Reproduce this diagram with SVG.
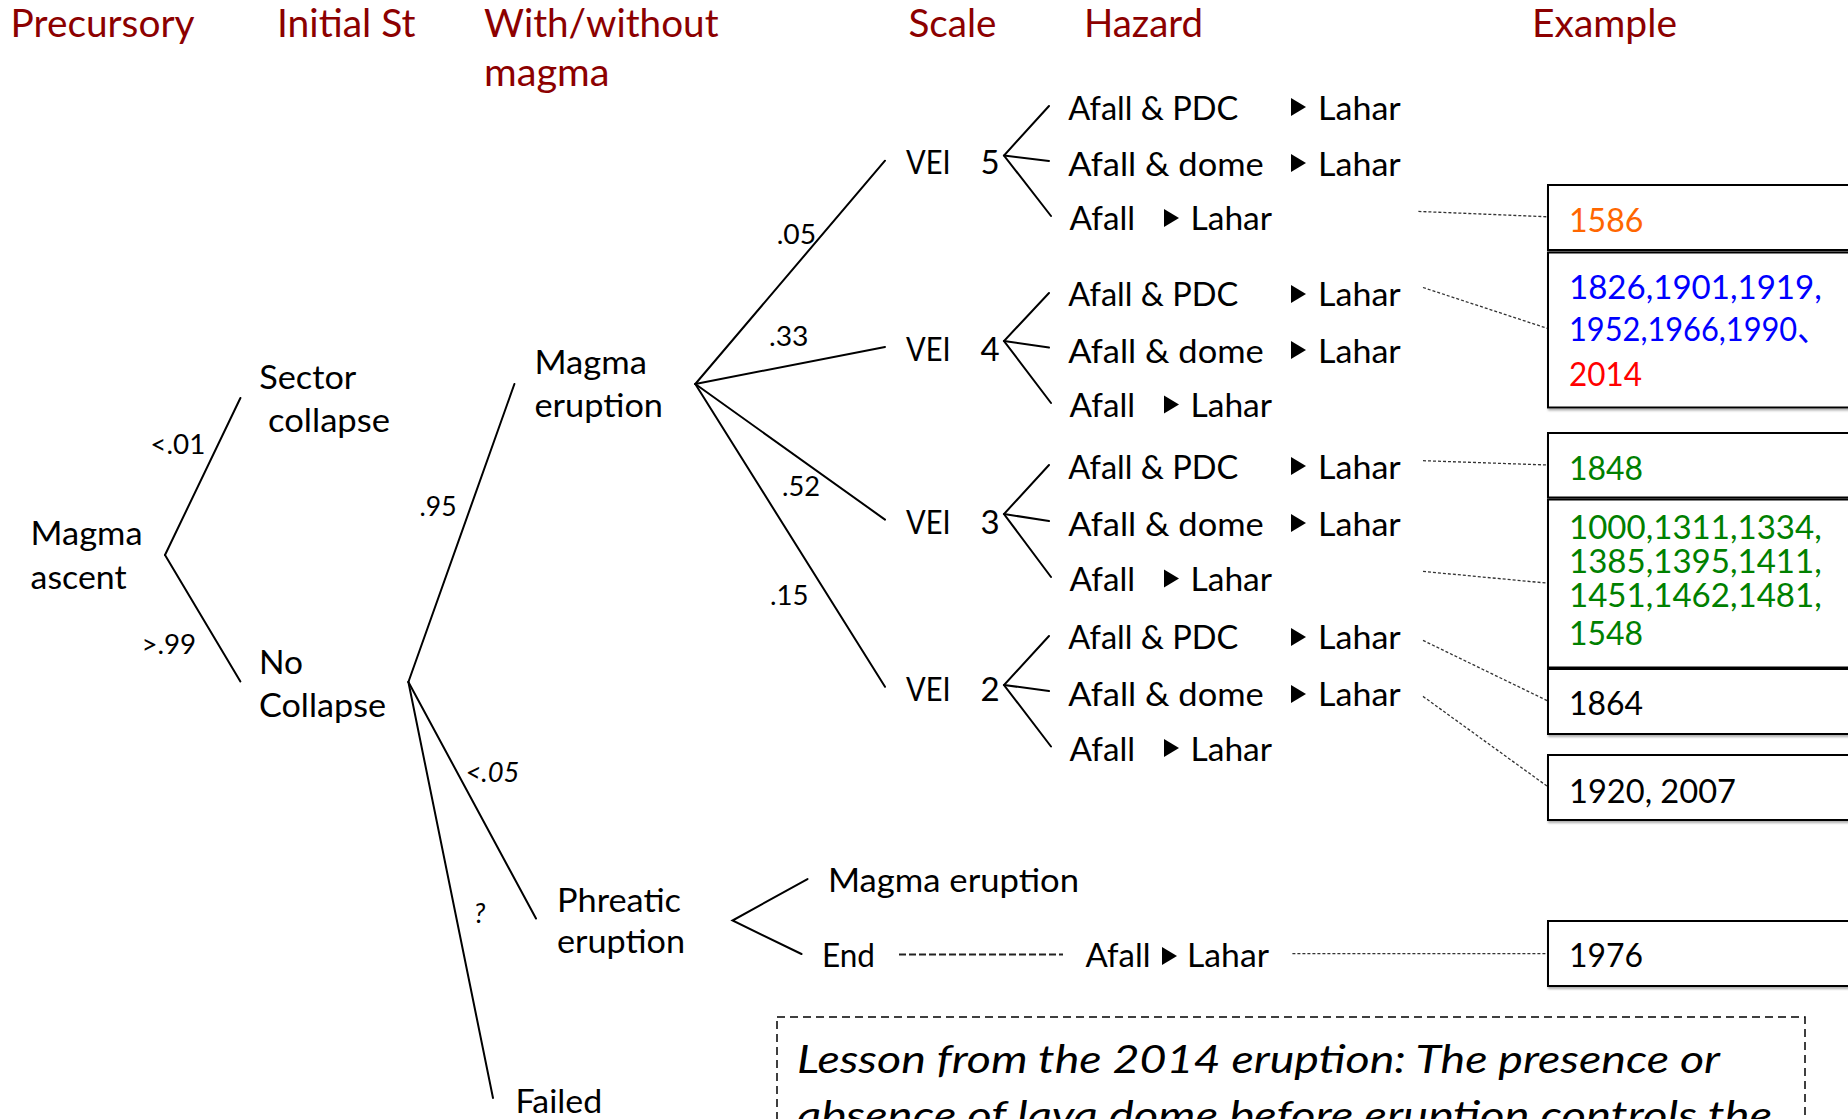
<svg xmlns="http://www.w3.org/2000/svg" xmlns:xlink="http://www.w3.org/1999/xlink" width="1848" height="1119" viewBox="0 0 1848 1119">
<style>
text { font-family: Lato, "Liberation Sans", "Noto Sans CJK JP", sans-serif; }
.h { font-size: 38px; fill: #8C0000; }
.t { font-size: 33px; fill: #000; }
.s { font-size: 32px; }
.p { font-size: 27px; fill: #000; }
.it { font-style: italic; }
.L { font-size: 38.5px; font-style: italic; fill: #000; }
.ln { stroke: #000; stroke-width: 2; fill: none; stroke-linecap: round; }
.d { stroke: #333; stroke-width: 1.3; stroke-dasharray: 3 2; fill: none; }
.box { fill: #fff; stroke: #000; stroke-width: 2; filter: url(#sh); }
.or { fill: #FF6600; } .bl { fill: #0000FF; } .rd { fill: #FF0000; } .gr { fill: #008000; }
</style>
<defs>
<filter id="sh" x="-5%" y="-10%" width="110%" height="130%">
<feDropShadow dx="1" dy="2" stdDeviation="1" flood-color="#777" flood-opacity="0.6"/>
</filter>
<polygon id="tri" points="0,0 15,9 0,18" fill="#000"/>
</defs>
<rect width="1848" height="1119" fill="#fff"/>

<g id="headers">
<text class="h" x="10.6" y="36.5" textLength="184" lengthAdjust="spacingAndGlyphs">Precursory</text>
<text class="h" x="277" y="36.5" textLength="138.5" lengthAdjust="spacingAndGlyphs">Initial St</text>
<text class="h" x="484" y="36.5" textLength="234.5" lengthAdjust="spacingAndGlyphs">With/without</text>
<text class="h" x="484" y="86" textLength="125.5" lengthAdjust="spacingAndGlyphs">magma</text>
<text class="h" x="908.5" y="36.5" textLength="88" lengthAdjust="spacingAndGlyphs">Scale</text>
<text class="h" x="1084" y="36.5" textLength="119" lengthAdjust="spacingAndGlyphs">Hazard</text>
<text class="h" x="1532" y="36.5" textLength="145" lengthAdjust="spacingAndGlyphs">Example</text>
</g>

<g id="connectors">
<line class="ln" x1="165" y1="555" x2="240.4" y2="398"/>
<line class="ln" x1="165" y1="555" x2="240.4" y2="681.4"/>
<line class="ln" x1="408.4" y1="682" x2="514.4" y2="384"/>
<line class="ln" x1="408.4" y1="682" x2="536" y2="918.5"/>
<line class="ln" x1="408.4" y1="682" x2="493" y2="1098"/>
<line class="ln" x1="695.3" y1="384" x2="885" y2="160.7"/>
<line class="ln" x1="695.3" y1="384" x2="885" y2="347"/>
<line class="ln" x1="695.3" y1="384" x2="885" y2="519.6"/>
<line class="ln" x1="695.3" y1="384" x2="885" y2="686.8"/>
<polyline class="ln" points="1049,106 1004,155.5 1051,216"/>
<line class="ln" x1="1004" y1="155.5" x2="1049" y2="161"/>
<polyline class="ln" points="1049,293 1004,341 1051,403"/>
<line class="ln" x1="1004" y1="341" x2="1049" y2="347.5"/>
<polyline class="ln" points="1049,465 1004,514 1051,577"/>
<line class="ln" x1="1004" y1="514" x2="1049" y2="521"/>
<polyline class="ln" points="1049,636 1004,685 1051,746.5"/>
<line class="ln" x1="1004" y1="685" x2="1049" y2="691"/>
<polyline class="ln" points="807.5,879 732.5,920.5 801.5,954"/>
<line class="d" x1="1418.4" y1="211.4" x2="1548" y2="216.8"/>
<line class="d" x1="1423" y1="287.5" x2="1548" y2="328.6"/>
<line class="d" x1="1423" y1="460.7" x2="1548" y2="465"/>
<line class="d" x1="1423" y1="571.4" x2="1548" y2="583.2"/>
<line class="d" x1="1423" y1="640.4" x2="1548" y2="701"/>
<line class="d" x1="1423" y1="696.4" x2="1548" y2="786.8"/>
<line class="d" x1="1292.4" y1="953.6" x2="1548" y2="953.6"/>
<line x1="899" y1="954.6" x2="1063" y2="954.6" stroke="#222" stroke-width="2" stroke-dasharray="7 3"/>
</g>

<g id="prob-labels">
<text class="p" x="150.3" y="454" textLength="55" lengthAdjust="spacingAndGlyphs">&lt;.01</text>
<text class="p" x="141.4" y="653.6" textLength="54.8" lengthAdjust="spacingAndGlyphs">&gt;.99</text>
<text class="p" x="419.6" y="516" textLength="37" lengthAdjust="spacingAndGlyphs">.95</text>
<text class="p" x="776.7" y="243.5" textLength="39.5" lengthAdjust="spacingAndGlyphs">.05</text>
<text class="p" x="769" y="346" textLength="39.5" lengthAdjust="spacingAndGlyphs">.33</text>
<text class="p" x="782" y="496" textLength="38" lengthAdjust="spacingAndGlyphs">.52</text>
<text class="p" x="770" y="605" textLength="38.5" lengthAdjust="spacingAndGlyphs">.15</text>
<text class="p it" x="465.5" y="782" textLength="54" lengthAdjust="spacingAndGlyphs">&lt;.05</text>
<text class="p it" x="474" y="923">?</text>
</g>

<g id="node-magma-ascent">
<text class="t" x="30.6" y="544.6" textLength="112" lengthAdjust="spacingAndGlyphs">Magma</text>
<text class="t" x="30.6" y="588.6" textLength="96" lengthAdjust="spacingAndGlyphs">ascent</text>
</g>
<g id="node-sector-collapse">
<text class="t" x="259.3" y="389" textLength="97" lengthAdjust="spacingAndGlyphs">Sector</text>
<text class="t" x="268" y="432" textLength="122" lengthAdjust="spacingAndGlyphs">collapse</text>
</g>
<g id="node-no-collapse">
<text class="t" x="259" y="674" textLength="44" lengthAdjust="spacingAndGlyphs">No</text>
<text class="t" x="259" y="717" textLength="127" lengthAdjust="spacingAndGlyphs">Collapse</text>
</g>
<g id="node-magma-eruption">
<text class="t" x="534.5" y="374" textLength="112.5" lengthAdjust="spacingAndGlyphs">Magma</text>
<text class="t" x="534.5" y="417" textLength="128.5" lengthAdjust="spacingAndGlyphs">eruption</text>
</g>
<g id="node-phreatic">
<text class="t" x="557" y="912" textLength="124" lengthAdjust="spacingAndGlyphs">Phreatic</text>
<text class="t" x="557" y="953" textLength="128" lengthAdjust="spacingAndGlyphs">eruption</text>
</g>
<g id="node-failed">
<text class="t" x="515.6" y="1113" textLength="86.6" lengthAdjust="spacingAndGlyphs">Failed</text>
</g>
<g id="node-phreatic-magma">
<text class="t" x="828" y="892" textLength="251" lengthAdjust="spacingAndGlyphs">Magma eruption</text>
</g>
<g id="node-end">
<text class="t" x="822" y="967" textLength="53" lengthAdjust="spacingAndGlyphs">End</text>
<text class="t" x="1085.5" y="967" textLength="65" lengthAdjust="spacingAndGlyphs">Afall</text>
<use href="#tri" x="1162" y="947"/>
<text class="t" x="1187" y="967" textLength="82" lengthAdjust="spacingAndGlyphs">Lahar</text>
</g>

<g id="node-vei5">
<text class="t" x="906" y="174" textLength="44.6" lengthAdjust="spacingAndGlyphs">VEI</text>
<text class="t" x="980.5" y="174">5</text>
<text class="t" x="1068.3" y="119.6" textLength="170" lengthAdjust="spacingAndGlyphs">Afall &amp; PDC</text>
<use href="#tri" x="1291" y="98"/>
<text class="t" x="1318" y="119.6" textLength="82.7" lengthAdjust="spacingAndGlyphs">Lahar</text>
<text class="t" x="1068.3" y="175.7" textLength="195.4" lengthAdjust="spacingAndGlyphs">Afall &amp; dome</text>
<use href="#tri" x="1291" y="154"/>
<text class="t" x="1318" y="175.7" textLength="82.7" lengthAdjust="spacingAndGlyphs">Lahar</text>
<text class="t" x="1069.6" y="230.4" textLength="65.5" lengthAdjust="spacingAndGlyphs">Afall</text>
<use href="#tri" x="1164" y="209"/>
<text class="t" x="1190.5" y="230.4" textLength="81.5" lengthAdjust="spacingAndGlyphs">Lahar</text>
</g>
<g id="node-vei4">
<text class="t" x="906" y="361.4" textLength="44.6" lengthAdjust="spacingAndGlyphs">VEI</text>
<text class="t" x="980.5" y="361.4">4</text>
<text class="t" x="1068.3" y="306.4" textLength="170" lengthAdjust="spacingAndGlyphs">Afall &amp; PDC</text>
<use href="#tri" x="1291" y="285"/>
<text class="t" x="1318" y="306.4" textLength="82.7" lengthAdjust="spacingAndGlyphs">Lahar</text>
<text class="t" x="1068.3" y="362.5" textLength="195.4" lengthAdjust="spacingAndGlyphs">Afall &amp; dome</text>
<use href="#tri" x="1291" y="341"/>
<text class="t" x="1318" y="362.5" textLength="82.7" lengthAdjust="spacingAndGlyphs">Lahar</text>
<text class="t" x="1069.6" y="417" textLength="65.5" lengthAdjust="spacingAndGlyphs">Afall</text>
<use href="#tri" x="1164" y="395.5"/>
<text class="t" x="1190.5" y="417" textLength="81.5" lengthAdjust="spacingAndGlyphs">Lahar</text>
</g>
<g id="node-vei3">
<text class="t" x="906" y="534" textLength="44.6" lengthAdjust="spacingAndGlyphs">VEI</text>
<text class="t" x="980.5" y="534">3</text>
<text class="t" x="1068.3" y="478.6" textLength="170" lengthAdjust="spacingAndGlyphs">Afall &amp; PDC</text>
<use href="#tri" x="1291" y="457"/>
<text class="t" x="1318" y="478.6" textLength="82.7" lengthAdjust="spacingAndGlyphs">Lahar</text>
<text class="t" x="1068.3" y="535.7" textLength="195.4" lengthAdjust="spacingAndGlyphs">Afall &amp; dome</text>
<use href="#tri" x="1291" y="514"/>
<text class="t" x="1318" y="535.7" textLength="82.7" lengthAdjust="spacingAndGlyphs">Lahar</text>
<text class="t" x="1069.6" y="591" textLength="65.5" lengthAdjust="spacingAndGlyphs">Afall</text>
<use href="#tri" x="1164" y="569.5"/>
<text class="t" x="1190.5" y="591" textLength="81.5" lengthAdjust="spacingAndGlyphs">Lahar</text>
</g>
<g id="node-vei2">
<text class="t" x="906" y="701" textLength="44.6" lengthAdjust="spacingAndGlyphs">VEI</text>
<text class="t" x="980.5" y="701">2</text>
<text class="t" x="1068.3" y="649.3" textLength="170" lengthAdjust="spacingAndGlyphs">Afall &amp; PDC</text>
<use href="#tri" x="1291" y="628"/>
<text class="t" x="1318" y="649.3" textLength="82.7" lengthAdjust="spacingAndGlyphs">Lahar</text>
<text class="t" x="1068.3" y="706.4" textLength="195.4" lengthAdjust="spacingAndGlyphs">Afall &amp; dome</text>
<use href="#tri" x="1291" y="685"/>
<text class="t" x="1318" y="706.4" textLength="82.7" lengthAdjust="spacingAndGlyphs">Lahar</text>
<text class="t" x="1069.6" y="760.7" textLength="65.5" lengthAdjust="spacingAndGlyphs">Afall</text>
<use href="#tri" x="1164" y="739"/>
<text class="t" x="1190.5" y="760.7" textLength="81.5" lengthAdjust="spacingAndGlyphs">Lahar</text>
</g>

<g id="ex-1586">
<rect class="box" x="1548" y="185" width="330" height="65"/>
<text class="t or" x="1569" y="231.7" textLength="74.5" lengthAdjust="spacingAndGlyphs">1586</text>
</g>
<g id="ex-vei4">
<rect class="box" x="1548" y="252.5" width="330" height="155"/>
<text class="t bl" x="1569" y="299" textLength="252.7" lengthAdjust="spacingAndGlyphs">1826,1901,1919,</text>
<text class="t bl" x="1569" y="341" textLength="259" lengthAdjust="spacingAndGlyphs">1952,1966,1990、</text>
<text class="t rd" x="1569" y="385.5" textLength="73" lengthAdjust="spacingAndGlyphs">2014</text>
</g>
<g id="ex-1848">
<rect class="box" x="1548" y="433" width="330" height="64.5"/>
<text class="t gr" x="1569" y="480" textLength="74" lengthAdjust="spacingAndGlyphs">1848</text>
</g>
<g id="ex-vei3">
<rect class="box" x="1548" y="499.5" width="330" height="168"/>
<text class="t s gr" x="1569" y="539" textLength="252.7" lengthAdjust="spacingAndGlyphs">1000,1311,1334,</text>
<text class="t s gr" x="1569" y="573.3" textLength="252.7" lengthAdjust="spacingAndGlyphs">1385,1395,1411,</text>
<text class="t s gr" x="1569" y="606.7" textLength="252.7" lengthAdjust="spacingAndGlyphs">1451,1462,1481,</text>
<text class="t s gr" x="1569" y="644.5" textLength="74" lengthAdjust="spacingAndGlyphs">1548</text>
</g>
<g id="ex-1864">
<rect class="box" x="1548" y="669" width="330" height="65"/>
<text class="t" x="1569" y="715.4" textLength="74" lengthAdjust="spacingAndGlyphs">1864</text>
</g>
<g id="ex-1920">
<rect class="box" x="1548" y="755" width="330" height="65"/>
<text class="t" x="1569" y="803" textLength="167" lengthAdjust="spacingAndGlyphs">1920, 2007</text>
</g>
<g id="ex-1976">
<rect class="box" x="1548" y="921" width="330" height="65"/>
<text class="t" x="1569" y="967" textLength="74" lengthAdjust="spacingAndGlyphs">1976</text>
</g>

<g id="lesson">
<rect x="777" y="1017" width="1028" height="200" fill="none" stroke="#000" stroke-width="1.5" stroke-dasharray="8 5"/>
<text class="L" x="797" y="1073" textLength="923" lengthAdjust="spacingAndGlyphs">Lesson from the 2014 eruption: The presence or</text>
<text class="L" x="797" y="1129" textLength="975" lengthAdjust="spacingAndGlyphs">absence of lava dome before eruption controls the</text>
</g>
</svg>
